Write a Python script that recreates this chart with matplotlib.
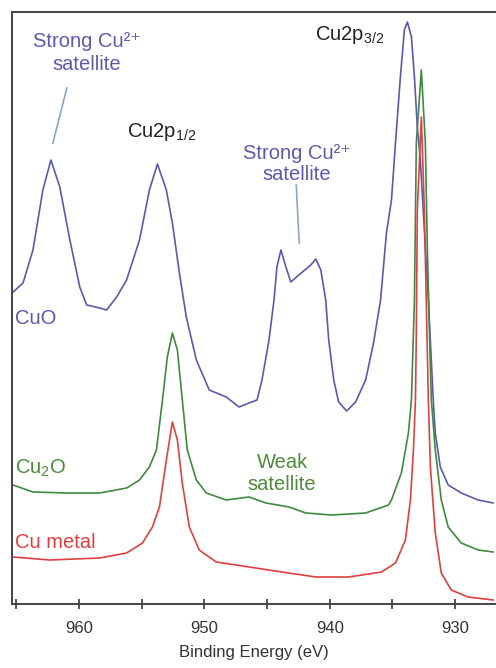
import matplotlib
matplotlib.use("Agg")
import matplotlib.pyplot as plt

plt.rcParams['font.family'] = ['Liberation Sans', 'DejaVu Sans']
plt.rcParams['mathtext.fontset'] = 'custom'
plt.rcParams['mathtext.rm'] = 'Liberation Sans'
plt.rcParams['mathtext.it'] = 'Liberation Sans:italic'
plt.rcParams['mathtext.bf'] = 'Liberation Sans:bold'

# Binding energy (eV) and intensity (arb. units, offset stacked)
cuo_be = [965.32, 964.44, 963.65, 962.86, 962.22, 961.51, 960.71, 959.92, 959.37, 958.33,
          957.78, 956.98, 956.19, 955.16, 954.37, 953.73, 953.02, 952.54, 951.98, 951.43,
          950.63, 949.60, 948.25, 947.22, 946.43, 945.79, 945.40, 944.84, 944.44, 944.21,
          943.89, 943.49, 943.10, 942.46, 941.51, 941.11, 940.71, 940.32, 940.08, 939.68,
          939.29, 938.65, 937.94, 937.14, 936.51, 935.95, 935.48, 935.08, 934.76, 934.37,
          934.05, 933.81, 933.49, 933.25, 933.02, 932.78, 932.14, 931.75, 931.59, 931.19,
          930.56, 929.52, 928.17, 926.98]
cuo_int = [311, 321, 354, 414, 444, 417, 364, 317, 299, 296,
           294, 307, 324, 364, 414, 440, 414, 381, 331, 287,
           244, 214, 207, 197, 201, 204, 224, 264, 304, 337,
           354, 337, 322, 329, 339, 345, 334, 304, 264, 224,
           202, 193, 202, 224, 261, 304, 371, 404, 461, 527,
           574, 582, 567, 527, 477, 444, 304, 204, 171, 137,
           119, 111, 104, 101]

cu2o_be = [965.24, 963.65, 960.95, 958.33, 956.19, 955.16, 954.37, 953.81, 953.33, 952.94,
           952.54, 952.14, 951.75, 951.35, 950.63, 949.84, 948.25, 946.43, 945.08, 943.25,
           941.90, 939.84, 937.14, 935.32, 935.08, 934.29, 933.73, 933.49, 933.25, 933.10,
           932.70, 932.38, 932.22, 931.98, 931.90, 931.59, 931.11, 930.56, 929.52, 928.17,
           926.98]
cu2o_int = [119, 112, 111, 111, 116, 124, 137, 154, 204, 247,
            271, 254, 204, 154, 124, 111, 104, 107, 101, 97,
            91, 89, 91, 99, 104, 131, 171, 204, 304, 461,
            534, 461, 354, 237, 204, 154, 104, 77, 61, 54,
            52]

cu_be = [965.24, 962.30, 958.33, 956.19, 954.92, 954.13, 953.57, 953.02, 952.54, 952.14,
         951.75, 951.19, 950.40, 949.05, 946.43, 943.81, 941.11, 938.49, 935.87, 934.76,
         933.97, 933.57, 933.33, 933.17, 933.10, 933.02, 932.70, 932.46, 932.14, 931.98,
         931.59, 931.11, 930.32, 928.97, 926.98]
cu_int = [47, 44, 46, 51, 61, 77, 97, 144, 182, 164,
          121, 77, 54, 42, 37, 32, 27, 27, 32, 41,
          64, 104, 154, 204, 271, 394, 487, 394, 204, 137,
          71, 31, 14, 7, 4]

major_ticks = [960, 950, 940, 930]
minor_ticks = [965, 955, 945, 935]

c_blue = '#5a5ab0'
c_green = '#3e8a3e'
c_red = '#e0403f'
c_text_green = '#4e8a3a'
c_dark = '#333333'
c_lead = '#8aa6c4'

fig = plt.figure(figsize=(4.96, 6.68), dpi=100)
ax = fig.add_axes([12/496, 64/668, 1 - 12/496, 592/668])

ax.plot(cuo_be, cuo_int, color=c_blue, lw=1.2)
ax.plot(cu2o_be, cu2o_int, color=c_green, lw=1.2)
ax.plot(cu_be, cu_int, color=c_red, lw=1.2)

ax.set_xlim(965.32, 926.75)
ax.set_ylim(0, 592)
ax.set_yticks([])
ax.set_xticks(major_ticks)
ax.set_xticks(minor_ticks, minor=True)
ax.tick_params(axis='x', which='both', direction='inout', length=7, width=1.2,
               color=c_dark, labelsize=12, labelcolor=c_dark, pad=9)
ax.spines['right'].set_visible(False)
for s in ['left', 'top', 'bottom']:
    ax.spines[s].set_color('#444444')
    ax.spines[s].set_linewidth(1.4)

ax.set_xlabel('Binding Energy (eV)', fontsize=12, color=c_dark, labelpad=6)

fs = 14.5
fam = ['Liberation Sans', 'DejaVu Sans']
ax.text(959.37, 551, 'Strong Cu²⁺\nsatellite', color=c_blue, fontsize=fs,
        ha='center', va='center', linespacing=1.25, family=fam)
ax.plot([960.95, 962.06], [516, 461], color=c_lead, lw=1.2)
ax.text(953.4, 472, 'Cu2p$_{1/2}$', color='#222222', fontsize=fs, ha='center', va='center')
ax.text(942.62, 440, 'Strong Cu²⁺\nsatellite', color=c_blue, fontsize=fs,
        ha='center', va='center', linespacing=1.18, family=fam)
ax.plot([942.67, 942.43], [419, 361], color=c_lead, lw=1.2)
ax.text(938.4, 569, 'Cu2p$_{3/2}$', color='#222222', fontsize=fs, ha='center', va='center')
ax.text(965.1, 286, 'CuO', color=c_blue, fontsize=fs, ha='left', va='center')
ax.text(965.1, 136, 'Cu$_2$O', color=c_text_green, fontsize=fs, ha='left', va='center')
ax.text(943.8, 131, 'Weak\nsatellite', color=c_text_green, fontsize=fs,
        ha='center', va='center', linespacing=1.2)
ax.text(965.1, 62, 'Cu metal', color=c_red, fontsize=fs, ha='left', va='center')

fig.savefig('out.png', dpi=100)
